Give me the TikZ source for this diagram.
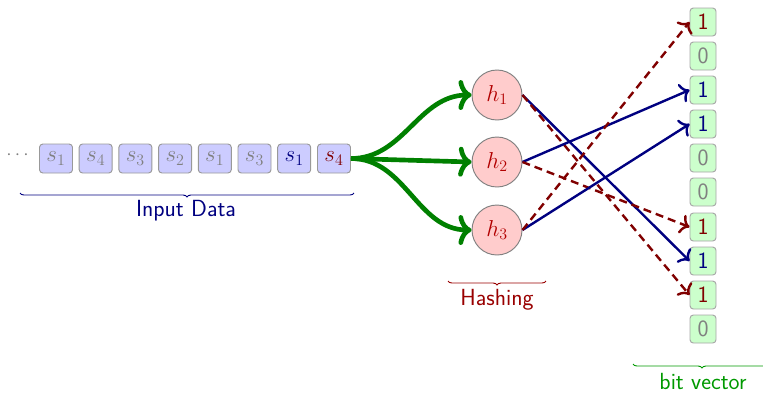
\documentclass[tikz,border=0pt]{standalone}
\usetikzlibrary{decorations.pathreplacing,arrows.meta}
\begin{document}
\begin{tikzpicture}[x=0.75pt,y=-0.75pt,font=\sffamily\fontsize{17.5}{21}\selectfont]
\useasboundingbox (0,0) rectangle (763,394);
\colorlet{navy}{blue!50!black}
\colorlet{dred}{red!50!black}
\colorlet{dgreen}{green!50!black}
\tikzset{
  sbox/.style={draw=gray!80, fill=blue!20, rounded corners=2.5pt, minimum width=24.75pt, minimum height=21.75pt, inner sep=0pt, line width=0.7pt},
  bbox/.style={draw=gray!70, fill=green!20, rounded corners=2.5pt, minimum width=19.5pt, minimum height=21pt, inner sep=0pt, line width=0.7pt},
  hnode/.style={circle, draw=gray, fill=red!20, minimum size=37.5pt, inner sep=0pt, line width=0.7pt, text=red!70!black},
  garrow/.style={draw=dgreen, line width=3.5pt, -{Computer Modern Rightarrow[length=7pt,width=16pt,scale=1.4]}},
  barrow/.style={draw=navy, line width=1.8pt, -{Computer Modern Rightarrow[length=5pt,width=11pt,scale=1.35]}},
  rarrow/.style={draw=dred, line width=1.8pt, dash pattern=on 6pt off 3.75pt, -{Computer Modern Rightarrow[length=5pt,width=11pt,scale=1.35]}},
  bracestyle/.style={decorate, decoration={brace, mirror, amplitude=3pt}, line width=0.7pt},
}
\node[text=gray, font=\fontsize{15}{17}\selectfont] (dots) at (17.5,155) {$\cdots$};
\node[sbox, text=gray] (s1) at (56,158.5) {$s_1$};
\node[sbox, text=gray] (s2) at (95.7,158.5) {$s_4$};
\node[sbox, text=gray] (s3) at (135.4,158.5) {$s_3$};
\node[sbox, text=gray] (s4) at (175.1,158.5) {$s_2$};
\node[sbox, text=gray] (s5) at (214.8,158.5) {$s_1$};
\node[sbox, text=gray] (s6) at (254.5,158.5) {$s_3$};
\node[sbox, text=navy] (s7) at (294.2,158.5) {$s_1$};
\node[sbox, text=dred] (s8) at (334,158.5) {$s_4$};

\node[hnode] (h1) at (497,95) {$h_1$};
\node[hnode] (h2) at (497,162) {$h_2$};
\node[hnode] (h3) at (497,230) {$h_3$};

\node[bbox, text=dred] (b1) at (703,22) {1};
\node[bbox, text=gray] (b2) at (703,56) {0};
\node[bbox, text=navy] (b3) at (703,90) {1};
\node[bbox, text=navy] (b4) at (703,124) {1};
\node[bbox, text=gray] (b5) at (703,158) {0};
\node[bbox, text=gray] (b6) at (703,192) {0};
\node[bbox, text=dred] (b7) at (703,227) {1};
\node[bbox, text=navy] (b8) at (703,261) {1};
\node[bbox, text=dred] (b9) at (703,295) {1};
\node[bbox, text=gray] (b10) at (703,329) {0};

\draw[garrow] (s8.east) to[out=0,in=180] (h1.west);
\draw[garrow] (s8.east) -- (h2.west);
\draw[garrow] (s8.east) to[out=0,in=180] (h3.west);

\draw[barrow] (h1.east) -- (b8.west);
\draw[rarrow] (h1.east) -- (b9.west);
\draw[barrow] (h2.east) -- (b3.west);
\draw[rarrow] (h2.east) -- (b7.west);
\draw[barrow] (h3.east) -- (b4.west);
\draw[rarrow] (h3.east) -- (b1.west);

\coordinate (ia) at (20,193);
\coordinate (ib) at (354,193);
\draw[bracestyle, draw=navy] (ia) -- (ib);
\node[text=navy] (input) at (186,211) {Input Data};

\coordinate (ha) at (448,281);
\coordinate (hb) at (546,281);
\draw[bracestyle, draw=red!60!black] (ha) -- (hb);
\node[text=red!60!black] (hash) at (497,300) {Hashing};

\coordinate (va) at (633,364);
\coordinate (vb) at (771,364);
\draw[bracestyle, draw=green!60!black] (va) -- (vb);
\node[text=green!60!black] (bv) at (703,381) {bit vector};
\end{tikzpicture}
\end{document}
